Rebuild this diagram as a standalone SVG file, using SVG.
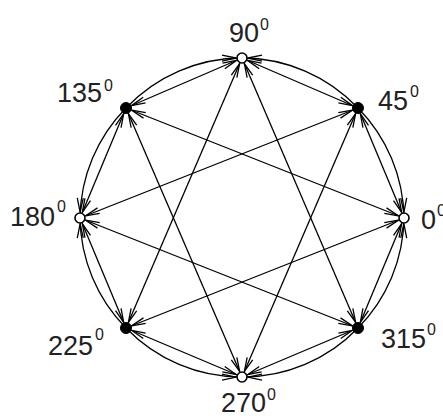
<svg xmlns="http://www.w3.org/2000/svg" width="443" height="416" viewBox="0 0 443 416">
<style>
.c{fill:none;stroke:#000;stroke-width:1.3;marker-end:url(#ah)}
.b{fill:none;stroke:#000;stroke-width:1.3;marker-start:url(#ah);marker-end:url(#ah)}
.open{fill:#fff;stroke:#000;stroke-width:1.6}
.full{fill:#000;stroke:#000;stroke-width:1}
text{font-family:"Liberation Sans",Arial,sans-serif;fill:#222}
.m{font-size:27px}
.s{font-size:16px}
</style>
<defs>
<marker id="ah" markerUnits="userSpaceOnUse" viewBox="-25 -10 30 20" markerWidth="30" markerHeight="20" refX="0" refY="0" orient="auto-start-reverse" overflow="visible">
<path d="M-20,-3 L-6,0 L-20,3" fill="none" stroke="#000" stroke-width="1.3"/>
</marker>
</defs>
<g id="connectors">
<path class="c" d="M126,108 A160,160 0 0 1 242,58"/>
<path class="c" d="M358,108 A160,160 0 0 0 242,58"/>
<path class="c" d="M358,108 A160,160 0 0 1 404,218"/>
<path class="c" d="M358,328 A160,160 0 0 0 404,218"/>
<path class="c" d="M358,328 A160,160 0 0 1 242,377"/>
<path class="c" d="M126,328 A160,160 0 0 0 242,377"/>
<path class="c" d="M126,328 A160,160 0 0 1 80,218"/>
<path class="c" d="M126,108 A160,160 0 0 0 80,218"/>
<path class="b" d="M242,58 L358,108"/>
<path class="b" d="M358,108 L404,218"/>
<path class="b" d="M404,218 L358,328"/>
<path class="b" d="M358,328 L242,377"/>
<path class="b" d="M242,377 L126,328"/>
<path class="b" d="M126,328 L80,218"/>
<path class="b" d="M80,218 L126,108"/>
<path class="b" d="M126,108 L242,58"/>
<path class="b" d="M242,58 L126,328"/>
<path class="b" d="M242,58 L358,328"/>
<path class="b" d="M126,108 L242,377"/>
<path class="b" d="M126,108 L404,218"/>
<path class="b" d="M80,218 L358,328"/>
<path class="b" d="M80,218 L358,108"/>
<path class="b" d="M126,328 L404,218"/>
<path class="b" d="M242,377 L358,108"/>
</g>
<g id="n90"><circle class="open" cx="242" cy="58" r="5"/><text class="m" x="229" y="42">90</text><text class="s" x="260" y="30">0</text></g>
<g id="n45"><circle class="full" cx="358" cy="108" r="5.5"/><text class="m" x="378" y="110">45</text><text class="s" x="410" y="97">0</text></g>
<g id="n0"><circle class="open" cx="404" cy="218" r="5"/><text class="m" x="421" y="229">0</text><text class="s" x="437" y="216">0</text></g>
<g id="n315"><circle class="full" cx="358" cy="328" r="5.5"/><text class="m" x="381" y="348">315</text><text class="s" x="427" y="335">0</text></g>
<g id="n270"><circle class="open" cx="242" cy="377" r="5"/><text class="m" x="221" y="412">270</text><text class="s" x="267" y="400">0</text></g>
<g id="n225"><circle class="full" cx="126" cy="328" r="5.5"/><text class="m" x="48" y="355">225</text><text class="s" x="95" y="340">0</text></g>
<g id="n180"><circle class="open" cx="80" cy="218" r="5"/><text class="m" x="10" y="226">180</text><text class="s" x="57" y="212">0</text></g>
<g id="n135"><circle class="full" cx="126" cy="108" r="5.5"/><text class="m" x="57" y="102">135</text><text class="s" x="104" y="91">0</text></g>
</svg>
